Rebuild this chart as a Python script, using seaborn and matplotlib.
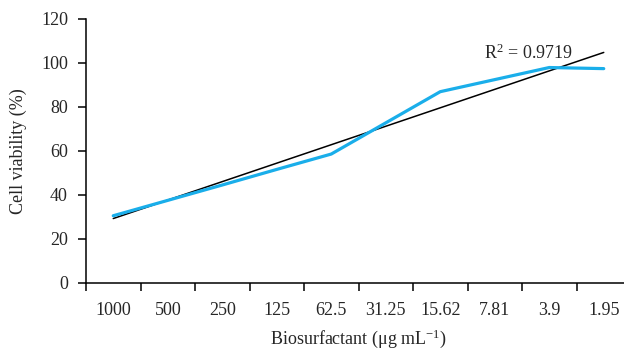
import numpy as np
import matplotlib
matplotlib.use("Agg")
import matplotlib.pyplot as plt
import seaborn as sns
import pandas as pd

# concentrations (x categories) and cell viability
concentrations = ["1000", "500", "250", "125", "62.5", "31.25", "15.62", "7.81", "3.9", "1.95"]
viability = [30.4, 37.4, 44.4, 51.5, 58.5, 72.7, 86.9, 92.4, 97.9, 97.4]
r2_text = "R$^{2}$ = 0.9719"

sns.set_style("white")
plt.rcParams["font.family"] = ["Liberation Serif", "DejaVu Serif"]
plt.rcParams["mathtext.fontset"] = "custom"
plt.rcParams["mathtext.rm"] = "Liberation Serif"
plt.rcParams["mathtext.it"] = "Liberation Serif:italic"
plt.rcParams["xtick.bottom"] = True
plt.rcParams["ytick.left"] = True

df = pd.DataFrame({"pos": np.arange(len(concentrations)), "viability": viability})

fig = plt.figure(figsize=(6.24, 3.49), dpi=100)
ax = fig.add_axes([86 / 624, 66.5 / 349, 545 / 624, 263.5 / 349])

# linear trend line (black) and the measured series (blue)
sns.regplot(data=df, x="pos", y="viability", ci=None, scatter=False, ax=ax,
            line_kws={"color": "black", "linewidth": 1.1})
sns.lineplot(data=df, x="pos", y="viability", ax=ax, color="#1aaeea", linewidth=2.3)

ax.text(6.81, 102.0, r2_text, fontsize=13, ha="left", va="baseline")

ax.set_xlim(-0.5, len(concentrations) - 0.5)
ax.set_ylim(0, 120)
ax.set_yticks(range(0, 121, 20))
ax.set_xticks(df["pos"])
ax.set_xticklabels(concentrations)
ax.set_xticks(np.arange(-0.5, len(concentrations), 1.0), minor=True)

ax.tick_params(axis="x", which="major", length=0, pad=14, labelsize=13)
ax.tick_params(axis="x", which="minor", length=6, width=1.1, direction="out", color="black")
ax.tick_params(axis="y", length=6, width=1.1, direction="out", pad=7, labelsize=13, color="black")

for side in ["top", "right"]:
    ax.spines[side].set_visible(False)
for side in ["left", "bottom"]:
    ax.spines[side].set_color("black")
    ax.spines[side].set_linewidth(1.1)

ax.set_xlabel("Biosurfactant (\u03bcg mL$^{-1}$)", fontsize=13, labelpad=6)
ax.set_ylabel("Cell viability (%)", fontsize=13, labelpad=10)
ax.grid(False)

fig.savefig("out.png", dpi=100)
